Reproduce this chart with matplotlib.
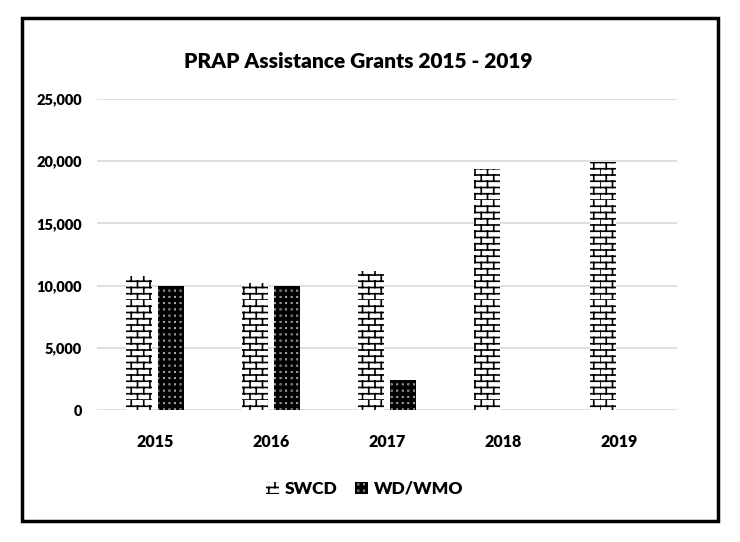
import numpy as np
import matplotlib
matplotlib.use("Agg")
import matplotlib.pyplot as plt
import matplotlib.hatch as mhatch
from matplotlib.path import Path
from matplotlib.patches import Rectangle, Patch
from matplotlib import font_manager
from matplotlib.ticker import FuncFormatter

years = ["2015", "2016", "2017", "2018", "2019"]
swcd = [10800, 10200, 11200, 19350, 19950]
wd_wmo = [10000, 10000, 2400, 0, 0]
series_names = ["SWCD", "WD/WMO"]
title = "PRAP Assistance Grants 2015 - 2019"
yticks = [0, 5000, 10000, 15000, 20000, 25000]


class BrickHatch(mhatch.HatchPatternBase):
    """Brick pattern, triggered by '+'."""
    def __init__(self, hatch, density):
        self.on = hatch.count('+') > 0
        self.rows = 16
        self.cols = 8
        if self.on:
            self.num_vertices = self.rows * 2 + self.rows * self.cols * 2
        else:
            self.num_vertices = 0

    def set_vertices_and_codes(self, vertices, codes):
        k = 0
        for i in range(self.rows):
            y = i / self.rows
            vertices[k] = (0, y); codes[k] = Path.MOVETO; k += 1
            vertices[k] = (1, y); codes[k] = Path.LINETO; k += 1
        for i in range(self.rows):
            y0 = i / self.rows
            y1 = (i + 1) / self.rows
            off = 0.5 * (i % 2)
            for j in range(self.cols):
                x = (j + off) / self.cols
                vertices[k] = (x, y0); codes[k] = Path.MOVETO; k += 1
                vertices[k] = (x, y1); codes[k] = Path.LINETO; k += 1


class DotHatch(mhatch.HatchPatternBase):
    """Small filled dots, triggered by '.'."""
    filled = True

    def __init__(self, hatch, density):
        self.on = hatch.count('.') > 0
        self.rows = 16
        self.cols = 18
        self.size = 0.002
        if self.on:
            self.num_vertices = self.rows * self.cols * 5
        else:
            self.num_vertices = 0

    def set_vertices_and_codes(self, vertices, codes):
        k = 0
        s = self.size
        for i in range(self.rows):
            for j in range(self.cols):
                x = (j + 0.5) / self.cols
                y = (i + 0.5) / self.rows
                pts = [(x - s/2, y - s/2), (x + s/2, y - s/2),
                       (x + s/2, y + s/2), (x - s/2, y + s/2), (x - s/2, y - s/2)]
                cds = [Path.MOVETO, Path.LINETO, Path.LINETO, Path.LINETO, Path.CLOSEPOLY]
                for p, c in zip(pts, cds):
                    vertices[k] = p; codes[k] = c; k += 1


mhatch._hatch_types = [BrickHatch, DotHatch]
plt.rcParams['hatch.linewidth'] = 1.2

available = {f.name for f in font_manager.fontManager.ttflist}
fam = "Lato" if "Lato" in available else "DejaVu Sans"
plt.rcParams['font.family'] = [fam, "DejaVu Sans"]
WT = 'heavy'
plt.rcParams['font.weight'] = WT

fig = plt.figure(figsize=(7.4, 5.42), dpi=100)
fig.patches.append(Rectangle((22/740, 1 - 521/542), 696/740, 503/542,
                             transform=fig.transFigure, fill=False,
                             edgecolor='black', linewidth=2.5))

ax = fig.add_axes([97/740, 1 - 410/542, 580/740, 311/542])
x = np.arange(len(years))
w = 0.225
ax.bar(x - 0.141, swcd, width=w, facecolor='white', edgecolor='black',
       linewidth=0, hatch='+', zorder=3, label=series_names[0])
ax.bar(x + 0.141, wd_wmo, width=w, facecolor='black', edgecolor='white',
       linewidth=0, hatch='.', zorder=3, label=series_names[1])

ax.set_xlim(-0.5, 4.5)
ax.set_ylim(0, 25000)
ax.set_yticks(yticks)
ax.yaxis.set_major_formatter(FuncFormatter(lambda v, p: f"{int(v):,}"))
ax.set_xticks(x)
ax.set_xticklabels(years)
ax.grid(axis='y', color='#d9d9d9', linewidth=1.2, zorder=0)
for s in ax.spines.values():
    s.set_visible(False)
ax.tick_params(axis='both', length=0, labelsize=10.5)
ax.tick_params(axis='x', pad=17, labelsize=11.5)
ax.tick_params(axis='y', pad=11)
for lab in ax.get_xticklabels() + ax.get_yticklabels():
    lab.set_fontweight(WT)

fig.text(358/740, 1 - 61/542, title, ha='center', va='center',
         fontsize=15, fontweight=WT)

handles = [Patch(facecolor='white', edgecolor='black', linewidth=0, hatch='+'),
           Patch(facecolor='black', edgecolor='white', linewidth=0, hatch='.')]
fig.legend(handles, series_names, loc='center', bbox_to_anchor=(365/740, 1 - 489/542),
           ncol=2, frameon=False, prop={'size': 12.5, 'weight': WT},
           handlelength=0.75, handleheight=0.75, handletextpad=0.35, columnspacing=1.0)

fig.savefig("out.png", dpi=100)
